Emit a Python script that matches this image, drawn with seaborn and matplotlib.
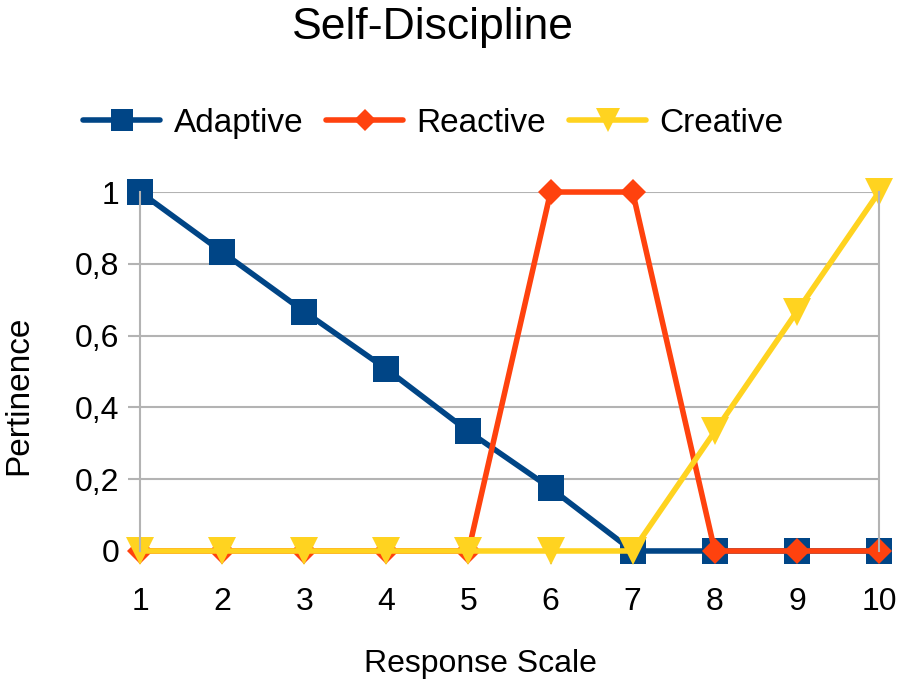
import pandas as pd
import seaborn as sns
import matplotlib.pyplot as plt
from matplotlib.lines import Line2D
from matplotlib.ticker import FuncFormatter

sns.set_theme(style="white")
plt.rcParams['font.family'] = ['Liberation Sans', 'DejaVu Sans']
plt.rcParams['text.color'] = 'black'
plt.rcParams['axes.labelcolor'] = 'black'

# Data
scale = [1, 2, 3, 4, 5, 6, 7, 8, 9, 10]
adaptive = [1, 0.833, 0.667, 0.507, 0.333, 0.175, 0, 0, 0, 0]
reactive = [0, 0, 0, 0, 0, 1, 1, 0, 0, 0]
creative = [0, 0, 0, 0, 0, 0, 0, 0.333, 0.667, 1]

series = ["Adaptive", "Reactive", "Creative"]
colors = {"Adaptive": "#004586", "Reactive": "#ff420e", "Creative": "#ffd320"}
markers = {"Adaptive": "s", "Reactive": "D", "Creative": "v"}
sizes = {"Adaptive": 19, "Reactive": 13, "Creative": 20}

df = pd.DataFrame({
    "Response Scale": scale * 3,
    "Pertinence": adaptive + reactive + creative,
    "series": ["Adaptive"] * 10 + ["Reactive"] * 10 + ["Creative"] * 10,
})

fig = plt.figure(figsize=(9.05, 6.97), dpi=100)
ax = fig.add_axes([0.1547, 0.2095, 0.8166, 0.515])

for name in series:
    sub = df[df["series"] == name]
    sns.lineplot(data=sub, x="Response Scale", y="Pertinence", ax=ax,
                 color=colors[name], linewidth=4, marker=markers[name],
                 markersize=sizes[name], markeredgewidth=0, clip_on=False,
                 label=name, legend=False)

ax.set_xlim(1, 10)
ax.set_ylim(0, 1)
ax.set_xticks(scale)
ax.set_yticks([0, 0.2, 0.4, 0.6, 0.8, 1])
ax.yaxis.set_major_formatter(FuncFormatter(
    lambda v, p: "0" if v == 0 else ("1" if v == 1 else f"{v:.1f}".replace(".", ","))))

ax.grid(axis="y", color="#b3b3b3", linewidth=1.5)
ax.set_axisbelow(True)
for side in ["top", "bottom"]:
    ax.spines[side].set_visible(False)
for side in ["left", "right"]:
    ax.spines[side].set_color("#b3b3b3")
    ax.spines[side].set_linewidth(1.5)
ax.tick_params(axis="both", colors="#b3b3b3", length=9, width=1.5,
               labelcolor="black", labelsize=23, left=True, bottom=True)
ax.tick_params(axis="x", pad=17)
ax.tick_params(axis="y", pad=6)

ax.set_xlabel("Response Scale", fontsize=23)
ax.set_ylabel("Pertinence", fontsize=24)
ax.xaxis.set_label_coords(0.461, -0.272)
ax.yaxis.set_label_coords(-0.143, 0.435)

fig.suptitle("Self-Discipline", fontsize=32, x=0.478, y=0.99)

handles = [Line2D([], [], color=colors[n], linewidth=4, marker=markers[n],
                  markersize=sizes[n] * 0.85, markeredgewidth=0) for n in series]
fig.legend(handles, series, loc="center", bbox_to_anchor=(0.479, 0.823),
           ncol=3, frameon=False, fontsize=24, handlelength=2.3,
           handletextpad=0.4, columnspacing=0.7)

fig.savefig("out.png", dpi=100)
